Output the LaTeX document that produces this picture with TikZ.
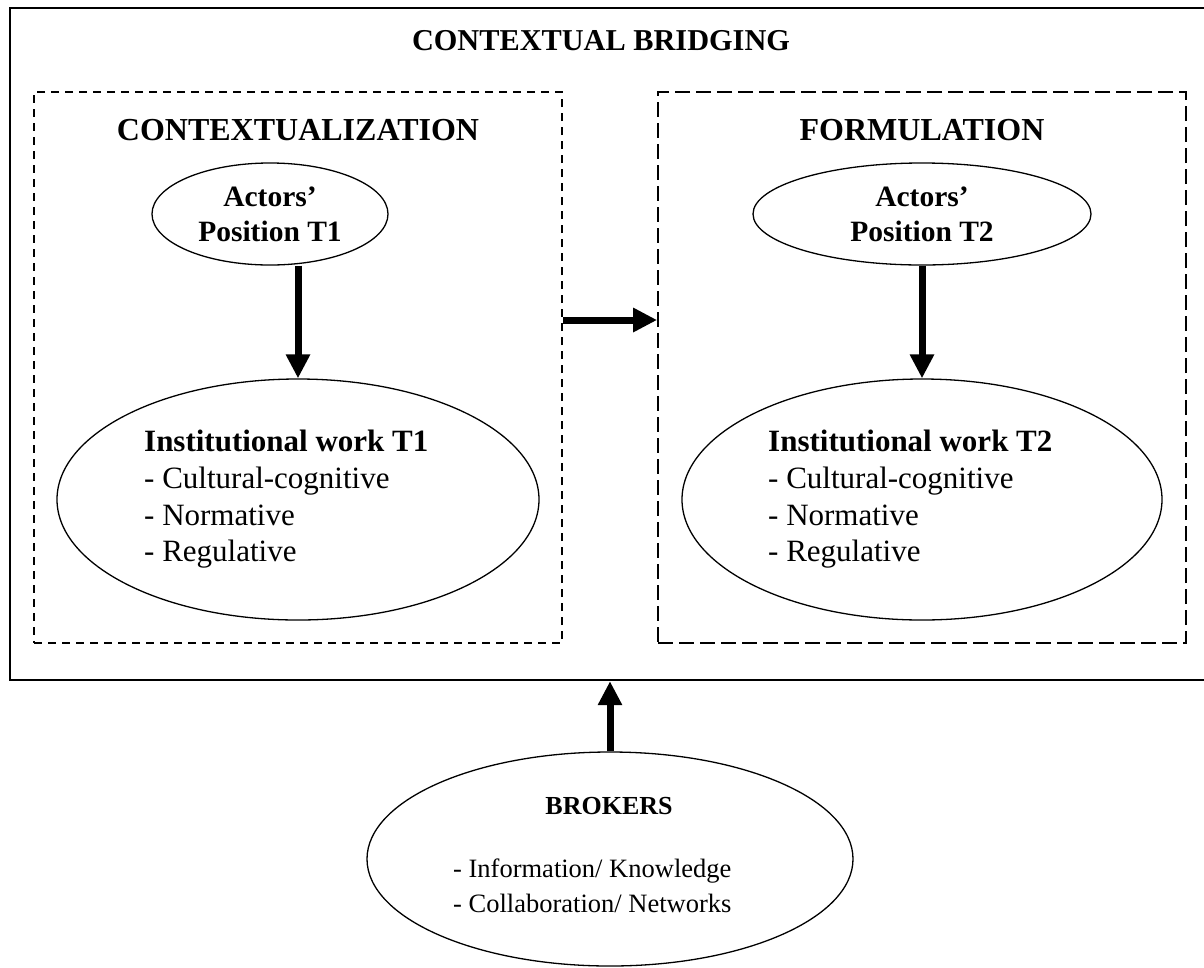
\documentclass[tikz,border=0pt]{standalone}
\usepackage{fontspec}
\setmainfont{Liberation Serif}
\usetikzlibrary{arrows.meta,shapes.geometric}

\begin{document}
\begin{tikzpicture}[x=1pt,y=-1pt,
  outerbox/.style={draw, line width=2.4pt, inner sep=0pt},
  shortdash/.style={draw, line width=1.8pt, dash pattern=on 8pt off 6pt, inner sep=0pt},
  longdash/.style={draw, line width=1.8pt, dash pattern=on 15pt off 6pt, inner sep=0pt},
  oval/.style={draw, ellipse, line width=1.3pt, inner sep=0pt},
  bigarrow/.style={line width=7pt, -{Triangle[length=24pt,width=23pt]}},
  headfont/.style={font=\bfseries\fontsize{32}{36}\selectfont},
  actorfont/.style={font=\bfseries\fontsize{29.5}{35}\selectfont, align=center},
  listtext/.style={font=\fontsize{31}{36.7}\selectfont, align=left, anchor=west, inner sep=0pt},
]
\useasboundingbox (0,0) rectangle (1204,967);

% outer frame (its right side runs past the page edge)
\node[outerbox, minimum width=1197pt, minimum height=672pt] (bridge) at (608.5,344) {};
\node[font=\bfseries\fontsize{30.3}{36}\selectfont] (title) at (601,41) {CONTEXTUAL BRIDGING};

% the two stages
\node[shortdash, minimum width=528pt, minimum height=551pt] (ctx) at (298,367.5) {};
\node[longdash, minimum width=528pt, minimum height=551pt] (frm) at (922,367.5) {};
\node[headfont] (ctxtitle) at (298,130) {CONTEXTUALIZATION};
\node[headfont] (frmtitle) at (922,130) {FORMULATION};

% actors' positions
\node[oval, minimum width=236pt, minimum height=102pt, actorfont] (act1) at (270,214) {Actors’\\Position T1};
\node[oval, minimum width=338pt, minimum height=102pt, actorfont] (act2) at (922,214) {Actors’\\Position T2};

% institutional work
\node[oval, minimum width=482pt, minimum height=241pt] (inst1) at (298,499.5) {};
\node[oval, minimum width=480pt, minimum height=241pt] (inst2) at (922,499.5) {};
\node[listtext] (inst1text) at (144,499.5) {\textbf{Institutional work T1}\\- Cultural-cognitive\\- Normative\\- Regulative};
\node[listtext] (inst2text) at (768,499.5) {\textbf{Institutional work T2}\\- Cultural-cognitive\\- Normative\\- Regulative};

% brokers
\node[oval, minimum width=486pt, minimum height=214pt] (brokers) at (610,859) {};
\node[font=\bfseries\fontsize{26}{31}\selectfont] (brokertitle) at (609,806) {BROKERS};
\node[listtext, font=\fontsize{26.5}{35}\selectfont] (brokerlist) at (453,886) {- Information/ Knowledge\\- Collaboration/ Networks};

% arrows
\coordinate (mid) at (0,320);
\draw[bigarrow] (act1.south -| inst1.north) -- (inst1.north);
\draw[bigarrow] (act2.south) -- (inst2.north);
\draw[bigarrow] (ctx.east |- mid) -- (frm.west |- mid);
\draw[bigarrow] (brokers.north) -- (bridge.south -| brokers.north);
\end{tikzpicture}
\end{document}
